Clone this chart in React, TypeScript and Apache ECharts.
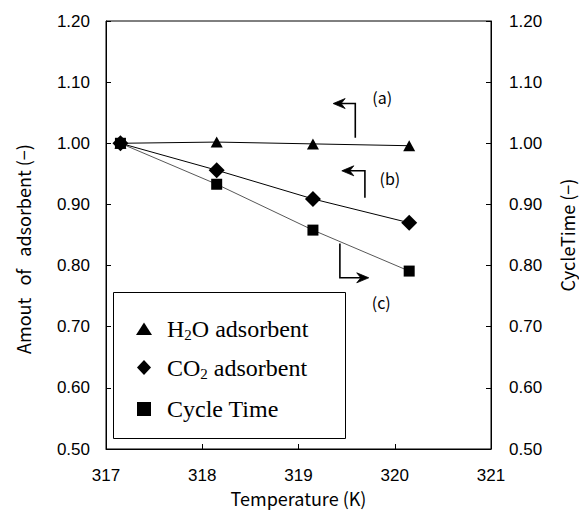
import React, { useEffect, useRef } from "react";
import * as echarts from "echarts";

// ---- data ----
const temperatures = [317.15, 318.15, 319.15, 320.15];
const h2oAdsorbent = [1.0, 1.002, 0.999, 0.996];
const co2Adsorbent = [1.0, 0.956, 0.909, 0.87];
const cycleTime = [1.0, 0.933, 0.858, 0.791];
const seriesNames = ["H2O adsorbent", "CO2 adsorbent", "Cycle Time"];
const xTicks = { min: 317, max: 321, interval: 1 };
const yTicks = { min: 0.5, max: 1.2, interval: 0.1 };
const annotationLabels = ["(a)", "(b)", "(c)"];

// annotation arrows, in data coordinates (x: K, y: -)
const annotationGeometry = [
  { stem: [319.59, 1.009], corner: [319.59, 1.065], tip: [319.36, 1.065], dir: -1, label: [319.87, 1.076] },
  { stem: [319.69, 0.911], corner: [319.69, 0.955], tip: [319.45, 0.955], dir: -1, label: [319.95, 0.943] },
  { stem: [319.43, 0.836], corner: [319.43, 0.780], tip: [319.73, 0.780], dir: 1, label: [319.86, 0.741] },
];

const SANS = "'Liberation Sans', Arial, sans-serif";
const JSANS = "'Noto Sans CJK JP', 'Liberation Sans', sans-serif";
const SERIF = "'Liberation Serif', 'Times New Roman', serif";

function pairs(ys: number[]) {
  return temperatures.map((t, i) => [t, ys[i]]);
}

export default function App() {
  const ref = useRef<HTMLDivElement>(null);
  useEffect(() => {
    if (!ref.current) return;
    const chart = echarts.init(ref.current, undefined, { renderer: "svg" });
    const yAxisCommon = {
      type: "value",
      min: yTicks.min,
      max: yTicks.max,
      interval: yTicks.interval,
      splitLine: { show: false },
      axisLine: { show: true, lineStyle: { color: "#000", width: 1 } },
      axisTick: { show: true, inside: true, length: 5, lineStyle: { color: "#000" } },
      axisLabel: {
        formatter: (v: number) => v.toFixed(2),
        fontFamily: SANS,
        fontSize: 17,
        color: "#000",
      },
      nameLocation: "middle",
      nameRotate: 90,
      nameTextStyle: { fontFamily: JSANS, fontSize: 18, color: "#000" },
    };
    const option: any = {
      animation: false,
      backgroundColor: "#fff",
      grid: {
        left: 106,
        right: 88,
        top: 21,
        bottom: 65,
        outerBoundsMode: "none",
        containLabel: false,
        show: true,
        borderColor: "#000",
        borderWidth: 1,
        backgroundColor: "transparent",
      },
      xAxis: {
        type: "value",
        min: xTicks.min,
        max: xTicks.max,
        interval: xTicks.interval,
        splitLine: { show: false },
        axisLine: { show: true, lineStyle: { color: "#000", width: 1 } },
        axisTick: { show: true, inside: true, length: 5, lineStyle: { color: "#000" } },
        axisLabel: { fontFamily: SANS, fontSize: 17, color: "#000", margin: 18 },
        name: "Temperature (K)",
        nameLocation: "middle",
        nameGap: 40,
        nameTextStyle: { fontFamily: JSANS, fontSize: 18, color: "#000" },
      },
      yAxis: [
        {
          ...yAxisCommon,
          position: "left",
          axisLabel: { ...yAxisCommon.axisLabel, margin: 16 },
          name: "Amout\u00a0\u00a0\u00a0of\u00a0\u00a0\u00a0adsorbent (−)",
          nameGap: 74,
          nameTextStyle: { ...yAxisCommon.nameTextStyle, padding: [0, 28, 0, 0] },
        },
        {
          ...yAxisCommon,
          position: "right",
          axisLabel: { ...yAxisCommon.axisLabel, margin: 18 },
          name: "CycleTime (−)",
          nameGap: 67,
        },
      ],
      series: [
        {
          name: seriesNames[2],
          type: "line",
          yAxisIndex: 1,
          data: pairs(cycleTime),
          symbol: "rect",
          symbolSize: 11,
          itemStyle: { color: "#000" },
          lineStyle: { color: "#444", width: 0.9 },
        },
        {
          name: seriesNames[0],
          type: "line",
          data: pairs(h2oAdsorbent),
          symbol: "triangle",
          symbolSize: [12, 11],
          itemStyle: { color: "#000" },
          lineStyle: { color: "#000", width: 1 },
        },
        {
          name: seriesNames[1],
          type: "line",
          data: pairs(co2Adsorbent),
          symbol: "diamond",
          symbolSize: 16,
          itemStyle: { color: "#000" },
          lineStyle: { color: "#000", width: 1 },
        },
      ],
    };
    chart.setOption(option);

    const px = (p: number[]) => chart.convertToPixel({ xAxisIndex: 0, yAxisIndex: 0 }, p) as number[];
    const graphics: any[] = [];
    annotationGeometry.forEach((a, i) => {
      const s = px(a.stem);
      const c = px(a.corner);
      const t = px(a.tip);
      const d = a.dir;
      graphics.push({
        type: "polyline",
        shape: { points: [s, c, [t[0] - d * 3, t[1]]] },
        style: { stroke: "#000", lineWidth: 1.6, fill: null },
        z: 10,
      });
      graphics.push({
        type: "polygon",
        shape: {
          points: [
            [t[0], t[1]],
            [t[0] - d * 12, t[1] - 5],
            [t[0] - d * 8, t[1]],
            [t[0] - d * 12, t[1] + 5],
          ],
        },
        style: { fill: "#000", stroke: "#000", lineWidth: 0.8 },
        z: 10,
      });
      const l = px(a.label);
      graphics.push({
        type: "text",
        x: l[0],
        y: l[1],
        style: {
          text: annotationLabels[i],
          fontFamily: JSANS,
          fontSize: 16,
          fill: "#000",
          align: "center",
          verticalAlign: "middle",
        },
        z: 10,
      });
    });

    // legend box
    const lx = 113, ly = 292, lw = 232, lh = 146;
    graphics.push({
      type: "rect",
      shape: { x: lx + 0.5, y: ly + 0.5, width: lw, height: lh },
      style: { fill: "#fff", stroke: "#000", lineWidth: 1 },
      z: 20,
    });
    const rowY = [329, 367.5, 409];
    const iconX = 144;
    const icons = [
      { type: "polygon", shape: { points: [[iconX, rowY[0] - 6.5], [iconX + 8, rowY[0] + 6], [iconX - 8, rowY[0] + 6]] } },
      { type: "polygon", shape: { points: [[iconX, rowY[1] - 7.5], [iconX + 7, rowY[1]], [iconX, rowY[1] + 7.5], [iconX - 7, rowY[1]]] } },
      { type: "rect", shape: { x: iconX - 7, y: rowY[2] - 7, width: 14, height: 14 } },
    ];
    const richTexts = [
      "{n|H}{s|2}{n|O adsorbent}",
      "{n|CO}{s|2}{n| adsorbent}",
      "{n|Cycle Time}",
    ];
    icons.forEach((ic, i) => {
      graphics.push({ ...ic, style: { fill: "#000" }, z: 21 });
      graphics.push({
        type: "text",
        x: 167,
        y: rowY[i],
        z: 21,
        style: {
          text: richTexts[i],
          fill: "#000",
          fontFamily: SERIF,
          fontSize: 24,
          verticalAlign: "middle",
          align: "left",
          rich: {
            n: { fontFamily: SERIF, fontSize: 24, lineHeight: 27, fill: "#000" },
            s: { fontFamily: SERIF, fontSize: 15, lineHeight: 27, verticalAlign: "bottom", fill: "#000" },
          },
        },
      });
    });
    chart.setOption({ graphic: graphics });

    return () => chart.dispose();
  }, []);
  return (
    <div
      ref={ref}
      style={{ position: "absolute", left: 0, top: 0, width: 579, height: 514, background: "#fff" }}
    />
  );
}
